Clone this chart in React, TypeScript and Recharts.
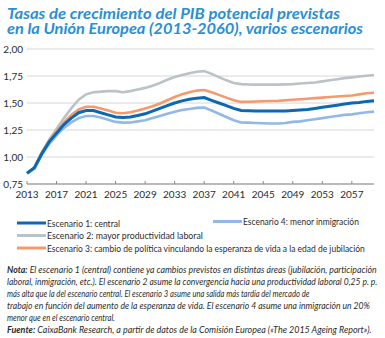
import { useLayoutEffect, useRef, useState } from "react"
import { CartesianGrid, Line, LineChart, XAxis, YAxis } from "recharts"

const years = [
  2013, 2014, 2015, 2016, 2017, 2018, 2019, 2020, 2021, 2022, 2023, 2024,
  2025, 2026, 2027, 2028, 2029, 2030, 2031, 2032, 2033, 2034, 2035, 2036,
  2037, 2038, 2039, 2040, 2041, 2042, 2043, 2044, 2045, 2046, 2047, 2048,
  2049, 2050, 2051, 2052, 2053, 2054, 2055, 2056, 2057, 2058, 2059, 2060,
]

// Escenario 1: central
const central = [
  0.85, 0.9, 1.03, 1.14, 1.22, 1.3, 1.36, 1.41, 1.43, 1.43, 1.41, 1.39,
  1.37, 1.365, 1.37, 1.385, 1.4, 1.425, 1.45, 1.475, 1.5, 1.52, 1.535, 1.545,
  1.55, 1.525, 1.5, 1.475, 1.45, 1.43, 1.428, 1.425, 1.425, 1.425, 1.425, 1.425,
  1.43, 1.435, 1.44, 1.45, 1.46, 1.47, 1.48, 1.49, 1.5, 1.505, 1.515, 1.52,
]

// Escenario 2: mayor productividad laboral
const productividad = [
  0.85, 0.9, 1.04, 1.16, 1.26, 1.36, 1.45, 1.53, 1.58, 1.6, 1.605, 1.61,
  1.61, 1.6, 1.61, 1.625, 1.64, 1.66, 1.685, 1.715, 1.74, 1.76, 1.775, 1.79,
  1.795, 1.77, 1.74, 1.71, 1.685, 1.675, 1.672, 1.67, 1.67, 1.67, 1.67, 1.672,
  1.675, 1.68, 1.685, 1.69, 1.7, 1.71, 1.72, 1.73, 1.737, 1.745, 1.753, 1.76,
]

// Escenario 3: cambio de política (esperanza de vida / jubilación)
const jubilacion = [
  0.85, 0.9, 1.04, 1.15, 1.24, 1.32, 1.39, 1.44, 1.465, 1.465, 1.45, 1.43,
  1.41, 1.405, 1.415, 1.43, 1.45, 1.47, 1.495, 1.525, 1.555, 1.58, 1.6, 1.615,
  1.62, 1.6, 1.575, 1.55, 1.525, 1.51, 1.512, 1.514, 1.516, 1.518, 1.52, 1.525,
  1.53, 1.535, 1.54, 1.545, 1.55, 1.555, 1.56, 1.565, 1.57, 1.58, 1.59, 1.595,
]

// Escenario 4: menor inmigración
const inmigracion = [
  0.85, 0.89, 1.02, 1.12, 1.2, 1.27, 1.32, 1.36, 1.38, 1.38, 1.365, 1.345,
  1.325, 1.318, 1.32, 1.33, 1.34, 1.36, 1.38, 1.4, 1.42, 1.435, 1.445, 1.455,
  1.457, 1.43, 1.4, 1.37, 1.34, 1.32, 1.318, 1.315, 1.312, 1.31, 1.31, 1.315,
  1.325, 1.33, 1.34, 1.35, 1.36, 1.37, 1.38, 1.39, 1.395, 1.405, 1.415, 1.42,
]

const xTicks = [2013, 2017, 2021, 2025, 2029, 2033, 2037, 2041, 2045, 2049, 2053, 2057]
const yTicks = [0.75, 1, 1.25, 1.5, 1.75, 2]

const data = years.map((year, i) => ({
  year,
  central: central[i],
  productividad: productividad[i],
  jubilacion: jubilacion[i],
  inmigracion: inmigracion[i],
}))

const colors = {
  central: "#0b68b3",
  productividad: "#b9c3c8",
  jubilacion: "#f49a6c",
  inmigracion: "#92b9e6",
}

const font = "Lato, 'Open Sans', sans-serif"
const textColor = "#2b2b2b"

function XTick(props: any) {
  const { x, y, payload } = props
  return (
    <g>
      <line x1={x} x2={x} y1={y - 3} y2={y} stroke="#8a8a8a" />
      <text x={x} y={y + 14} textAnchor="middle" fontSize={10} fill={textColor}>
        {payload.value}
      </text>
    </g>
  )
}

// squeezes a line of text horizontally to the width it has in the original
function FitText({ x, y, width, children, ...rest }: any) {
  const ref = useRef<SVGTextElement>(null)
  const [scale, setScale] = useState(1)
  useLayoutEffect(() => {
    const w = ref.current ? ref.current.getBBox().width : 0
    if (w > 0) setScale(width / w)
  }, [width])
  return (
    <text ref={ref} transform={`translate(${x} ${y}) scale(${scale} 1)`} {...rest}>
      {children}
    </text>
  )
}

const legendItems = [
  { key: "central", label: "Escenario 1: central", x: 17, y: 223, len: 73 },
  { key: "productividad", label: "Escenario 2: mayor productividad laboral", x: 17, y: 235.5, len: 156 },
  { key: "jubilacion", label: "Escenario 3: cambio de política vinculando la esperanza de vida a la edad de jubilación", x: 17, y: 248, len: 318 },
  { key: "inmigracion", label: "Escenario 4: menor inmigración", x: 213, y: 221.5, len: 116 },
]

const noteLines = [
  { bold: "Nota:", text: " El escenario 1 (central) contiene ya cambios previstos en distintas áreas (jubilación, participación", len: 370 },
  { bold: "", text: "laboral, inmigración, etc.). El escenario 2 asume la convergencia hacia una productividad laboral 0,25 p. p.", len: 371 },
  { bold: "", text: "más alta que la del escenario central. El escenario 3 asume una salida más tardía del mercado de", len: 303 },
  { bold: "", text: "trabajo en función del aumento de la esperanza de vida. El escenario 4 asume una inmigración un 20%", len: 363 },
  { bold: "", text: "menor que en el escenario central.", len: 108 },
  { bold: "Fuente:", text: " CaixaBank Research, a partir de datos de la Comisión Europea («The 2015 Ageing Report»).", len: 365 },
]

export default function App() {
  return (
    <div style={{ position: "absolute", left: 0, top: 0, width: 385, height: 338, background: "#fff", fontFamily: font }}>
      <div style={{ position: "absolute", left: 0, top: 0 }}>
        <LineChart width={385} height={210} data={data} margin={{ top: 49, right: 11, bottom: 6, left: 0 }}>
          <CartesianGrid vertical={false} stroke="#d6d6d6" />
          <XAxis
            dataKey="year"
            type="number"
            domain={[2013, 2060]}
            ticks={xTicks}
            interval={0}
            axisLine={{ stroke: "#8a8a8a" }}
            tickLine={false}
            tickSize={0}
            tickMargin={0}
            height={20}
            tick={<XTick />}
          />
          <YAxis
            domain={[0.75, 2]}
            ticks={yTicks}
            interval={0}
            width={27}
            axisLine={false}
            tickLine={false}
            tickSize={4}
            tickMargin={0}
            tick={{ fontSize: 10, fill: textColor }}
            tickFormatter={(v: number) => v.toFixed(2).replace(".", ",")}
          />
          <Line dataKey="productividad" stroke={colors.productividad} strokeWidth={2.6} dot={false} isAnimationActive={false} />
          <Line dataKey="jubilacion" stroke={colors.jubilacion} strokeWidth={2.6} dot={false} isAnimationActive={false} />
          <Line dataKey="inmigracion" stroke={colors.inmigracion} strokeWidth={2.6} dot={false} isAnimationActive={false} />
          <Line dataKey="central" stroke={colors.central} strokeWidth={3} dot={false} isAnimationActive={false} />
        </LineChart>
      </div>
      <svg width={385} height={338} style={{ position: "absolute", left: 0, top: 0, pointerEvents: "none" }}>
        <text fontFamily={font} fontWeight={700} fontStyle="italic" fontSize={16} fill="#2a8fd3">
          <tspan x={7} y={19} textLength={333} lengthAdjust="spacingAndGlyphs">
            Tasas de crecimiento del PIB potencial previstas
          </tspan>
          <tspan x={7} y={33.5} textLength={356} lengthAdjust="spacingAndGlyphs">
            en la Unión Europea (2013-2060), varios escenarios
          </tspan>
        </text>
        <g fontFamily={font} fontSize={10} fill={textColor}>
          {legendItems.map((item) => (
            <g key={item.key}>
              <line
                x1={item.x}
                x2={item.x + 29}
                y1={item.y}
                y2={item.y}
                stroke={colors[item.key as keyof typeof colors]}
                strokeWidth={3}
              />
              <FitText x={item.x + 30} y={item.y + 3.5} width={item.len}>
                {item.label}
              </FitText>
            </g>
          ))}
        </g>
        <g fontFamily={font} fontSize={9.8} fontStyle="italic" fill={textColor}>
          {noteLines.map((line, i) => (
            <FitText key={i} x={7} y={273.3 + i * 11.9} width={line.len}>
              {line.bold && <tspan fontWeight={700}>{line.bold}</tspan>}
              {line.text}
            </FitText>
          ))}
        </g>
      </svg>
    </div>
  )
}
